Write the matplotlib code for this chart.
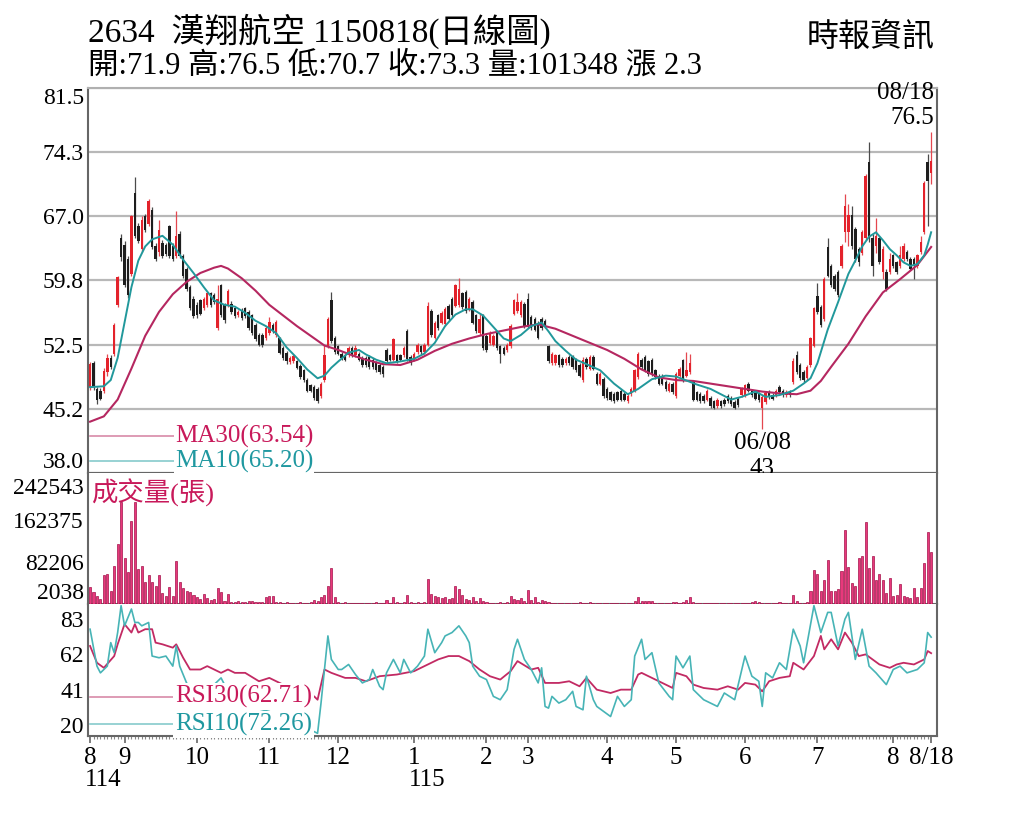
import matplotlib
matplotlib.use("Agg")
import matplotlib.pyplot as plt
import matplotlib.transforms as mtransforms
import numpy as np

FONT = ['Liberation Serif', 'Noto Sans CJK TC', 'DejaVu Sans']
plt.rcParams['font.family'] = FONT

# ---------------- data ----------------
title = "2634  漢翔航空 1150818(日線圖)"
source = "時報資訊"

opens = [
    47.7, 50.4, 47.5, 47.3, 47.3, 49.4, 51.0, 51.4, 57.0, 64.6,
    63.8, 62.2, 60.5, 69.6, 65.9, 63.3, 67.0, 66.1, 67.7, 63.7,
    63.0, 64.0, 63.8, 65.9, 63.7, 62.5, 65.0, 62.5, 61.1, 59.0,
    57.7, 57.0, 57.5, 56.6, 57.0, 58.3, 58.1, 54.4, 59.2, 57.0,
    57.0, 57.1, 56.6, 55.8, 56.4, 56.6, 56.2, 55.8, 54.7, 53.6,
    53.6, 53.2, 53.8, 54.7, 53.6, 53.2, 52.1, 51.6, 50.5, 50.6,
    50.6, 50.1, 49.6, 48.5, 47.9, 47.7, 47.5, 46.7, 48.5, 52.3,
    57.6, 53.3, 52.3, 51.5, 51.3, 51.3, 52.1, 51.3, 51.5, 51.0,
    51.0, 51.1, 50.8, 50.4, 50.2, 50.0, 51.9, 51.3, 50.8, 51.3,
    51.3, 51.3, 54.0, 51.1, 50.8, 51.7, 52.3, 51.7, 52.5, 56.3,
    53.3, 55.8, 55.0, 54.8, 56.9, 57.7, 56.9, 57.0, 58.3, 58.5,
    56.5, 57.3, 55.8, 53.8, 55.8, 53.5, 52.7, 52.5, 53.8, 52.3,
    52.1, 51.9, 52.3, 56.0, 56.3, 55.8, 57.1, 57.7, 55.6, 55.4,
    55.0, 55.4, 55.2, 52.3, 50.4, 50.4, 51.3, 50.9, 50.4, 51.1,
    51.1, 50.8, 50.2, 48.5, 50.9, 49.8, 51.1, 49.2, 48.1, 48.6,
    47.5, 47.1, 46.9, 47.1, 47.3, 46.9, 46.1, 46.9, 47.3, 48.8,
    50.8, 51.1, 50.6, 50.8, 49.6, 49.0, 49.0, 48.3, 47.3, 48.1,
    46.7, 49.0, 50.8, 49.0, 49.4, 48.3, 47.1, 46.9, 46.7, 46.3,
    46.5, 46.1, 45.6, 46.1, 46.3, 46.7, 46.5, 46.0, 46.4, 46.8,
    46.8, 48.1, 47.3, 47.0, 47.0, 45.3, 46.0, 47.2, 46.8, 46.8,
    47.7, 47.3, 46.8, 47.2, 48.3, 51.3, 50.2, 49.4, 48.7, 50.2,
    52.4, 58.0, 56.7, 55.4, 63.5, 61.4, 60.3, 60.7, 61.4, 65.2,
    65.2, 67.1, 65.6, 63.3, 62.9, 64.5, 73.1, 64.5, 63.7, 64.5,
    60.7, 60.7, 60.7, 62.6, 61.8, 61.4, 62.2, 63.0, 62.2, 62.2,
    61.4, 63.0, 65.2, 73.1, 71.9,
]
highs = [
    50.5, 50.6, 47.7, 47.6, 49.9, 51.5, 51.3, 55.0, 60.3, 65.0,
    64.2, 62.5, 67.2, 71.5, 66.3, 67.0, 67.3, 69.0, 68.0, 64.0,
    66.6, 64.3, 64.0, 66.0, 64.0, 67.6, 65.3, 62.7, 61.3, 59.2,
    58.0, 57.3, 57.7, 57.9, 58.5, 58.5, 58.3, 59.2, 59.4, 57.2,
    58.8, 57.4, 56.8, 56.4, 56.6, 56.8, 56.4, 56.0, 54.9, 53.8,
    53.8, 54.6, 55.6, 54.9, 55.3, 53.4, 52.3, 51.8, 51.2, 51.4,
    50.8, 50.3, 49.8, 48.7, 48.1, 47.9, 47.7, 48.3, 52.5, 55.6,
    58.5, 53.5, 52.5, 51.7, 51.5, 52.3, 52.3, 52.5, 51.7, 51.2,
    51.2, 51.3, 51.0, 50.6, 50.4, 50.2, 52.1, 51.5, 53.3, 51.5,
    51.5, 52.3, 54.3, 51.3, 51.7, 52.7, 52.5, 52.7, 57.3, 56.5,
    55.2, 56.0, 56.3, 56.7, 57.1, 57.9, 59.4, 60.0, 58.5, 58.7,
    57.9, 57.5, 56.0, 56.1, 56.0, 53.7, 54.0, 53.7, 54.0, 52.5,
    52.3, 52.7, 54.8, 57.7, 58.3, 57.5, 57.3, 58.3, 55.8, 55.6,
    55.2, 55.6, 55.4, 52.5, 51.7, 51.5, 51.5, 51.1, 51.1, 51.3,
    51.3, 51.0, 50.4, 51.1, 51.1, 51.3, 51.3, 49.4, 49.4, 48.8,
    47.7, 47.3, 47.1, 47.3, 47.5, 47.1, 46.9, 47.7, 49.8, 51.7,
    51.0, 51.3, 50.8, 51.0, 49.8, 49.2, 49.2, 48.5, 48.3, 48.3,
    49.4, 50.0, 50.9, 51.7, 51.5, 48.5, 47.3, 47.1, 46.9, 47.5,
    46.7, 46.3, 46.5, 46.3, 46.5, 46.9, 46.7, 46.2, 46.6, 47.7,
    48.1, 48.3, 47.5, 47.2, 47.2, 46.8, 47.2, 47.4, 47.0, 47.5,
    47.9, 47.5, 47.4, 47.4, 51.0, 51.8, 50.4, 49.6, 50.2, 53.4,
    56.8, 59.5, 57.0, 60.1, 64.6, 61.6, 60.5, 60.9, 63.9, 69.5,
    68.4, 68.2, 65.8, 63.5, 65.4, 71.8, 75.4, 65.0, 66.8, 64.7,
    63.7, 61.0, 62.9, 62.8, 62.0, 63.6, 64.0, 63.2, 62.4, 62.4,
    62.8, 64.8, 71.0, 74.0, 76.5,
]
lows = [
    47.4, 47.4, 45.8, 46.2, 47.0, 49.0, 49.8, 51.2, 56.8, 62.0,
    59.0, 57.8, 60.3, 64.5, 64.0, 63.0, 65.2, 65.9, 63.3, 62.0,
    62.5, 62.3, 62.5, 62.3, 62.0, 62.3, 62.3, 60.0, 58.6, 56.4,
    55.5, 55.5, 55.8, 56.4, 56.8, 56.8, 57.1, 54.2, 55.6, 55.0,
    56.8, 56.0, 55.5, 55.6, 55.3, 55.5, 54.2, 53.6, 52.9, 52.3,
    52.2, 53.0, 53.6, 53.8, 53.4, 51.4, 50.8, 50.3, 50.3, 50.4,
    49.7, 48.6, 48.3, 47.1, 47.1, 46.3, 45.9, 46.5, 48.3, 52.1,
    52.7, 51.5, 51.3, 50.8, 50.6, 51.1, 51.1, 51.1, 50.6, 50.0,
    50.0, 49.8, 49.8, 49.4, 49.2, 48.9, 50.4, 50.6, 50.6, 50.4,
    50.6, 51.1, 50.7, 50.2, 50.6, 51.5, 51.5, 51.5, 52.3, 53.4,
    53.1, 54.2, 54.8, 54.6, 55.2, 55.6, 56.7, 56.8, 56.5, 56.1,
    56.3, 54.8, 53.8, 53.6, 51.9, 51.7, 52.5, 52.3, 51.9, 50.4,
    51.3, 51.7, 52.1, 55.8, 56.1, 55.6, 54.4, 54.4, 54.2, 54.0,
    53.1, 54.2, 54.4, 50.4, 50.2, 50.2, 50.0, 50.0, 50.2, 50.2,
    49.8, 49.4, 48.8, 48.3, 49.8, 49.6, 49.6, 47.9, 47.9, 46.5,
    46.3, 46.1, 45.9, 46.1, 46.1, 46.1, 45.9, 46.7, 47.1, 48.6,
    49.8, 49.4, 49.0, 49.0, 48.6, 47.9, 47.9, 47.3, 47.1, 46.9,
    46.5, 48.8, 48.3, 48.8, 49.2, 46.1, 46.1, 45.9, 45.9, 46.1,
    45.4, 45.2, 45.4, 45.4, 45.6, 45.9, 45.6, 45.2, 45.5, 46.6,
    46.6, 47.1, 46.6, 46.2, 46.0, 43.0, 45.8, 46.4, 46.2, 46.6,
    46.9, 46.6, 46.6, 46.6, 48.1, 49.2, 48.5, 48.3, 48.5, 50.0,
    52.2, 56.0, 54.5, 55.2, 60.1, 59.0, 58.6, 57.9, 61.2, 64.1,
    63.7, 63.3, 61.8, 61.4, 62.6, 64.3, 64.1, 60.3, 62.9, 61.6,
    59.9, 58.6, 60.5, 61.2, 60.5, 61.2, 62.0, 62.0, 60.9, 59.9,
    61.2, 62.8, 65.0, 65.9, 70.7,
]
closes = [
    50.3, 47.7, 46.3, 46.4, 49.5, 51.0, 50.0, 54.7, 60.1, 62.4,
    59.2, 58.1, 67.0, 64.8, 64.2, 66.6, 65.5, 68.7, 63.5, 62.2,
    65.4, 62.5, 62.7, 62.5, 62.2, 64.8, 62.5, 60.3, 58.8, 56.6,
    55.7, 55.8, 56.0, 57.7, 58.3, 57.0, 57.3, 57.7, 55.8, 55.3,
    58.6, 56.2, 55.7, 56.2, 55.5, 55.7, 54.4, 53.8, 53.1, 52.5,
    52.5, 54.4, 55.1, 54.0, 55.1, 51.6, 51.0, 50.6, 51.0, 51.2,
    49.9, 48.8, 48.5, 47.3, 47.3, 46.5, 46.1, 48.1, 51.3, 55.4,
    52.9, 51.7, 51.5, 51.0, 50.8, 52.1, 51.3, 52.1, 50.8, 50.2,
    50.2, 50.0, 50.0, 49.6, 49.4, 49.2, 50.6, 50.8, 53.1, 50.6,
    50.8, 52.1, 50.9, 50.4, 51.5, 52.5, 51.7, 52.5, 56.9, 53.6,
    55.0, 54.4, 56.1, 56.5, 55.4, 55.8, 59.2, 58.8, 56.7, 56.3,
    57.7, 55.0, 54.0, 55.4, 52.1, 51.9, 53.8, 53.5, 52.1, 51.5,
    51.5, 52.5, 54.6, 57.5, 57.3, 57.3, 54.6, 54.6, 54.4, 54.2,
    53.3, 54.4, 54.6, 50.6, 51.5, 51.3, 50.2, 50.2, 50.9, 50.4,
    50.0, 49.6, 49.0, 50.8, 50.0, 51.1, 49.8, 48.1, 49.2, 46.7,
    46.5, 46.3, 46.1, 46.3, 46.3, 46.3, 46.7, 47.5, 49.6, 51.5,
    50.0, 49.6, 49.2, 49.2, 48.8, 48.1, 48.1, 47.5, 48.1, 47.1,
    49.2, 49.8, 48.5, 49.6, 50.4, 46.3, 46.3, 46.1, 46.1, 47.3,
    45.6, 45.4, 46.3, 45.6, 45.8, 46.1, 45.8, 45.4, 45.7, 47.5,
    47.9, 47.3, 46.8, 46.4, 46.2, 46.6, 47.0, 46.6, 46.4, 47.3,
    47.1, 46.8, 47.2, 46.8, 50.7, 49.4, 48.7, 48.5, 50.0, 53.2,
    56.6, 56.2, 54.7, 59.9, 60.3, 59.2, 58.8, 58.1, 63.7, 68.2,
    67.1, 63.7, 62.2, 61.8, 65.2, 71.6, 64.5, 61.4, 64.8, 61.8,
    63.3, 58.8, 62.2, 61.4, 60.7, 62.6, 63.7, 62.2, 61.1, 61.4,
    62.6, 64.1, 70.8, 71.0, 73.3,
]
volumes = [
    35000, 24000, 17000, 11000, 57000, 59000, 27000, 75000, 117000, 197000,
    90000, 63000, 161000, 197000, 69000, 75000, 44000, 57000, 44000, 37000,
    57000, 23000, 17000, 34000, 17000, 85000, 44000, 33000, 27000, 24000,
    19000, 15000, 11000, 21000, 13000, 10000, 11000, 33000, 25000, 8000,
    21000, 6000, 5000, 7000, 6000, 5000, 8000, 7000, 6000, 5000,
    6000, 15000, 17000, 18000, 6000, 5000, 4000, 5000, 4000, 3000,
    4000, 5000, 4000, 3000, 6000, 9000, 8000, 15000, 19000, 36000,
    71000, 15000, 5000, 4000, 6000, 3000, 4000, 3000, 3000, 4000,
    3000, 3000, 4000, 5000, 3000, 4000, 9000, 4000, 16000, 5000,
    4000, 5000, 19000, 6000, 4000, 5000, 4000, 5000, 50000, 21000,
    17000, 15000, 14000, 15000, 12000, 14000, 36000, 30000, 20000, 12000,
    9000, 15000, 8000, 13000, 8000, 5000, 4000, 4000, 3000, 5000,
    4000, 6000, 17000, 12000, 10000, 14000, 8000, 29000, 9000, 15000,
    6000, 9000, 7000, 5000, 4000, 3000, 3000, 4000, 3000, 3000,
    4000, 3000, 5000, 3000, 4000, 5000, 3000, 4000, 4000, 3000,
    3000, 4000, 3000, 3000, 3000, 4000, 3000, 4000, 8000, 15000,
    8000, 8000, 8000, 7000, 3000, 3000, 3000, 4000, 3000, 5000,
    6000, 4000, 6000, 9000, 15000, 6000, 4000, 3000, 3000, 3000,
    4000, 3000, 3000, 3000, 4000, 3000, 4000, 3000, 3000, 4000,
    3000, 3000, 5000, 7000, 5000, 4000, 4000, 3000, 3000, 3000,
    5000, 3000, 3000, 3000, 19000, 8000, 4000, 3000, 5000, 27000,
    67000, 59000, 27000, 48000, 86000, 27000, 27000, 31000, 65000, 143000,
    73000, 42000, 37000, 89000, 94000, 159000, 70000, 94000, 48000, 59000,
    48000, 23000, 51000, 17000, 19000, 40000, 17000, 15000, 13000, 32000,
    15000, 32000, 81000, 139000, 101348,
]

ma10_days = [0, 4, 6, 8, 10, 12, 14, 16, 18, 21, 24, 27, 30, 33, 36, 39, 42, 45, 48, 51,
             54, 57, 60, 63, 66, 68, 70, 72, 75, 78, 80, 83, 86, 90, 94, 97, 100, 103, 106, 109,
             111, 114, 117, 120, 122, 125, 128, 131, 133, 135, 138, 141, 144, 148, 152, 156, 159, 163, 167, 170,
             172, 176, 180, 183, 186, 189, 191, 193, 196, 200, 204, 207, 209, 211, 214, 217, 220, 222, 224, 226,
             228, 230, 232, 234, 236, 238, 240, 242, 243, 244]
ma10 = [47.7, 47.8, 48.5, 51.0, 55.0, 59.0, 62.0, 63.6, 64.4, 64.8, 63.8, 62.1, 60.6, 59.0, 57.5, 57.0, 56.8, 56.1, 55.2, 54.6,
        53.8, 52.2, 51.0, 49.7, 48.7, 49.0, 49.9, 50.6, 51.6, 51.9, 51.4, 50.8, 50.4, 50.6, 50.9, 51.5, 52.7, 54.6, 55.9, 56.5,
        56.5, 55.8, 54.5, 53.2, 52.9, 53.6, 54.6, 55.0, 54.0, 52.9, 51.8, 50.8, 50.3, 49.6, 48.1, 46.9, 47.5, 48.6, 49.0, 48.9,
        48.6, 48.0, 47.5, 46.9, 46.3, 46.6, 46.9, 47.2, 46.6, 46.8, 47.3, 48.1, 48.7, 50.4, 54.2, 57.3, 60.5, 62.0, 63.6, 64.7,
        65.2, 64.3, 63.3, 62.6, 61.8, 61.4, 61.6, 62.6, 63.8, 65.20]
ma30_days = [0, 4, 8, 12, 16, 20, 24, 28, 32, 36, 38, 40, 44, 48, 52, 56, 60, 64, 68, 72,
             76, 80, 85, 90, 95, 100, 105, 110, 115, 120, 125, 130, 135, 140, 145, 150, 155, 160, 165, 170,
             175, 180, 185, 190, 195, 200, 205, 209, 212, 215, 220, 225, 230, 235, 240, 244]
ma30 = [43.8, 44.4, 46.3, 49.8, 53.5, 56.2, 58.2, 59.6, 60.6, 61.2, 61.4, 61.1, 60.0, 58.6, 57.0, 55.8, 54.6, 53.5, 52.4, 51.9,
        51.3, 50.8, 50.3, 50.2, 50.8, 51.8, 52.6, 53.2, 53.7, 54.1, 54.5, 54.8, 54.3, 53.5, 52.7, 51.9, 50.9, 49.7, 48.8, 48.5,
        48.4, 48.1, 47.8, 47.5, 47.2, 47.0, 46.9, 47.3, 48.4, 50.0, 52.6, 55.7, 58.4, 59.9, 61.5, 63.54]

rsi30_days = [0, 2, 4, 7, 8, 10, 12, 13, 14, 16, 18, 19, 21, 24, 25, 27, 29, 32, 34, 36,
              38, 40, 42, 45, 49, 52, 55, 58, 61, 63, 65, 66, 68, 70, 74, 77, 80, 84, 89, 94,
              98, 101, 104, 107, 110, 113, 116, 119, 122, 124, 128, 130, 132, 136, 139, 142, 144, 147, 151, 154,
              157, 159, 160, 163, 166, 169, 170, 173, 175, 178, 182, 185, 188, 190, 193, 195, 197, 200, 203, 204,
              207, 210, 212, 213, 215, 217, 219, 221, 223, 225, 227, 229, 232, 234, 236, 239, 242, 243, 244]
rsi30 = [67, 57, 54, 61, 68, 80, 75, 80, 75, 77, 77, 69, 68, 66, 68, 60, 53, 53, 55, 53,
         51, 53, 51, 51, 46, 48, 45, 42, 40, 38, 37, 35, 53, 51, 48, 48, 46, 49, 50, 52,
         56, 59, 61, 61, 58, 53, 49, 47, 52, 58, 53, 54, 45, 45, 46, 43, 48, 41, 39, 41,
         41, 50, 51, 48, 45, 42, 51, 49, 44, 42, 41, 43, 41, 45, 44, 40, 46, 48, 49, 57,
         53, 61, 73, 65, 71, 65, 75, 69, 61, 62, 59, 56, 54, 56, 57, 56, 59, 64, 62.71]
rsi10_days = [0, 2, 3, 5, 6, 7, 8, 9, 10, 12, 13, 14, 15, 17, 18, 20, 22, 24, 25, 26,
              28, 31, 34, 36, 38, 40, 44, 48, 52, 56, 60, 63, 66, 67, 69, 70, 72, 73, 75, 77,
              79, 81, 82, 84, 85, 86, 88, 90, 91, 93, 95, 97, 98, 100, 102, 103, 105, 107, 109, 110,
              111, 113, 115, 117, 119, 121, 123, 124, 126, 128, 130, 131, 132, 133, 134, 136, 138, 140, 141, 143,
              144, 146, 147, 149, 151, 153, 155, 157, 158, 160, 161, 163, 165, 168, 169, 170, 172, 174, 175, 178,
              182, 184, 187, 190, 192, 194, 195, 196, 198, 200, 202, 204, 206, 207, 210, 212, 214, 215, 217, 219,
              220, 222, 224, 226, 228, 231, 233, 235, 237, 240, 242, 243, 244]
rsi10 = [77, 55, 51, 55, 69, 63, 75, 91, 79, 89, 81, 81, 79, 81, 61, 60, 61, 55, 67, 55,
         45, 38, 40, 44, 48, 40, 35, 30, 28, 24, 20, 18, 15, 33, 73, 59, 53, 53, 56, 50,
         45, 47, 53, 43, 41, 51, 59, 51, 59, 51, 55, 61, 77, 63, 69, 73, 75, 79, 73, 69,
         55, 49, 47, 37, 35, 41, 65, 71, 59, 53, 45, 54, 31, 30, 37, 33, 35, 40, 31, 29,
         49, 35, 31, 28, 25, 37, 31, 35, 61, 71, 59, 63, 45, 37, 35, 61, 54, 61, 41, 35,
         31, 39, 35, 61, 49, 46, 31, 51, 48, 57, 53, 77, 67, 57, 91, 75, 87, 87, 67, 83,
         87, 59, 77, 55, 51, 44, 53, 55, 51, 53, 57, 75, 72.26]

price_ticks = [38.0, 45.2, 52.5, 59.8, 67.0, 74.3, 81.5]
volume_ticks = [2038, 82206, 162375, 242543]
rsi_ticks = [20, 41, 62, 83]
month_days = [0, 10, 31, 52, 72, 94, 115, 127, 150, 170, 190, 211, 233, 244]
month_labels = ['8', '9', '10', '11', '12', '1', '2', '3', '4', '5', '6', '7', '8', '8/18']
year_days = [0, 94]
year_labels = ['114', '115']
peak_date = '08/18'
low_date = '06/08'

# ---------------- style ----------------
RED = '#e3222b'
BLACK = '#1e1e1e'
MA10C = '#21989b'
MA30C = '#b52760'
RSI10C = '#47b4b6'
RSI30C = '#c22a63'
VOLC = '#e8387c'
VOLE = '#a3124a'
TXT_MAG = '#c8195a'
TXT_TEAL = '#1f98a0'
SPINE = '#666666'

o = np.array(opens); h = np.array(highs); l = np.array(lows); c = np.array(closes)
v = np.array(volumes)
n = len(c)
days = np.arange(n)

W, H = 1024, 819
fig = plt.figure(figsize=(W / 100, H / 100), dpi=100)
fig.patch.set_facecolor('white')


def rect(x0, y0, x1, y1):
    return [x0 / W, 1 - y1 / H, (x1 - x0) / W, (y1 - y0) / H]


ax1 = fig.add_axes(rect(88, 88, 937, 473))
ax2 = fig.add_axes(rect(88, 473, 937, 604), sharex=ax1)
ax3 = fig.add_axes(rect(88, 604, 937, 736), sharex=ax1)

# ---------------- price panel ----------------
up = c >= o
body_col = np.where(up, RED, BLACK)
wick_col = np.where(up, '#e4474f', '#4a4a4a')
ax1.vlines(days, l, h, colors=wick_col, lw=0.9, zorder=3)
ax1.bar(days, np.maximum(np.abs(c - o), 0.12), bottom=np.minimum(o, c), width=0.7,
        color=body_col, lw=0, zorder=4)
ax1.plot(ma30_days, ma30, color=MA30C, lw=1.5, zorder=5)
ax1.plot(ma10_days, ma10, color=MA10C, lw=1.4, zorder=5)

ax1.set_xlim(-0.6, 245.7)
ax1.set_ylim(price_ticks[0], price_ticks[-1])
ax1.set_yticks(price_ticks)
labs = ax1.set_yticklabels([f'{t:.1f}' for t in price_ticks], fontsize=17)
labs[0].set_va('bottom'); labs[-1].set_va('top')
ax1.yaxis.grid(True, color='#b8b8b8', lw=1.6, zorder=0)
ax1.set_axisbelow(True)

# legends of MA lines
for yy, name, val, lc, tc in [(0.096, 'MA30', ma30[-1], '#d88aa8', TXT_MAG),
                              (0.031, 'MA10', ma10[-1], '#86cbcc', TXT_TEAL)]:
    ax1.plot([0.002, 0.1025], [yy, yy], transform=ax1.transAxes, color=lc, lw=1.2, zorder=6)
    ax1.text(0.1025, yy, f'{name}({val:.2f})', transform=ax1.transAxes, color=tc,
             fontsize=18, va='center', ha='left', zorder=7,
             bbox=dict(facecolor='white', edgecolor='none', pad=0.5))

# annotations of extremes
ih = int(np.argmax(h)); il = int(np.argmin(l))
ax1.annotate(f'{h[ih]:.1f}', xy=(ih, h[ih]), xytext=(3, 14), textcoords='offset pixels',
             ha='right', va='center', fontsize=18, annotation_clip=False, zorder=8)
ax1.annotate(peak_date, xy=(ih, h[ih]), xytext=(3, 39), textcoords='offset pixels',
             ha='right', va='center', fontsize=18, annotation_clip=False, zorder=8)
ax1.annotate(low_date, xy=(il, l[il]), xytext=(0, -14), textcoords='offset pixels',
             ha='center', va='center', fontsize=18, annotation_clip=False, zorder=8)
ax1.annotate(f'{l[il]:g}', xy=(il, l[il]), xytext=(0, -40), textcoords='offset pixels',
             ha='center', va='center', fontsize=18, annotation_clip=False, zorder=8)

# ---------------- volume panel ----------------
ax2.bar(days, v, width=0.6, color=VOLC, edgecolor=VOLE, lw=0.5, zorder=3)
ax2.set_ylim(volume_ticks[0], 252000)
ax2.set_yticks(volume_ticks)
labs = ax2.set_yticklabels([str(t) for t in volume_ticks], fontsize=17)
labs[0].set_va('bottom'); labs[-1].set_va('top')
ax2.text(0.003, 0.85, '成交量(張)', transform=ax2.transAxes, color=TXT_MAG, fontsize=19,
         va='center', ha='left', zorder=6)

# ---------------- RSI panel ----------------
ax3.plot(rsi30_days, rsi30, color=RSI30C, lw=1.3, zorder=3)
ax3.plot(rsi10_days, rsi10, color=RSI10C, lw=1.2, zorder=3)
ax3.set_ylim(13.4, 92)
ax3.set_yticks(rsi_ticks)
ax3.set_yticklabels([str(t) for t in rsi_ticks], fontsize=17)
for yy, name, val, lc, tc in [(0.296, 'RSI30', rsi30[-1], '#d88aa8', TXT_MAG),
                              (0.09, 'RSI10', rsi10[-1], '#86cbcc', TXT_TEAL)]:
    ax3.plot([0.002, 0.1025], [yy, yy], transform=ax3.transAxes, color=lc, lw=1.2, zorder=6)
    ax3.text(0.1025, yy, f'{name}({val:.2f})', transform=ax3.transAxes, color=tc,
             fontsize=18, va='center', ha='left', zorder=7,
             bbox=dict(facecolor='white', edgecolor='none', pad=1.5))

# ---------------- axes styling ----------------
for ax in (ax1, ax2, ax3):
    ax.tick_params(axis='y', length=0, pad=3, labelsize=17, colors='black')
    for s in ('left', 'right', 'bottom'):
        ax.spines[s].set_color(SPINE)
        ax.spines[s].set_linewidth(1.5)
    ax.spines['top'].set_visible(False)
ax1.spines['top'].set_visible(True)
ax1.spines['top'].set_color('#b0b0b0')
ax1.spines['top'].set_linewidth(1.5)
for ax in (ax1, ax2):
    ax.tick_params(axis='x', which='both', bottom=False, labelbottom=False)

ax3.set_xticks(month_days)
ax3.set_xticklabels(month_labels, fontsize=18)
ax3.set_xticks(days, minor=True)
ax3.tick_params(axis='x', which='major', length=5, width=1.2, color=SPINE, pad=3)
ax3.tick_params(axis='x', which='minor', length=2.5, width=0.8, color='#888888')
trans = mtransforms.blended_transform_factory(ax3.transData, ax3.transAxes)
for d, yl in zip(year_days, year_labels):
    ax3.text(d - 1.6, -0.335, yl, transform=trans, fontsize=18, ha='left', va='center')

# ---------------- header ----------------
fig.text(88 / W, 1 - 31 / H, title, fontsize=24, va='center', ha='left')
fig.text(935 / W, 1 - 38 / H, source, fontsize=23, va='center', ha='right')
chg = c[-1] - c[-2]
info = f'開:{o[-1]:.1f} 高:{h[-1]:.1f} 低:{l[-1]:.1f} 收:{c[-1]:.1f} 量:{v[-1]} 漲 {chg:.1f}'
fig.text(88 / W, 1 - 66 / H, info, fontsize=22, va='center', ha='left')

fig.savefig('out.png', dpi=100, facecolor='white')
